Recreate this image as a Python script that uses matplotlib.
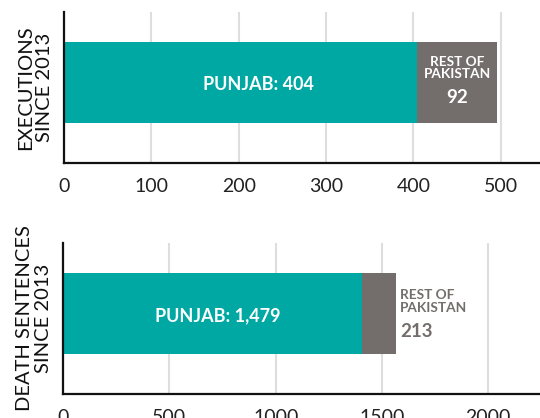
import matplotlib
matplotlib.use("Agg")
import matplotlib.pyplot as plt

plt.rcParams["font.family"] = ["Lato", "DejaVu Sans"]

# values as drawn in the bars
exec_punjab = 404
exec_rest = 92
death_punjab = 1405   # bar length as drawn (label says 1,479)
death_rest = 160      # bar length as drawn (label says 213)

exec_labels = ["PUNJAB: 404", "REST OF\nPAKISTAN", "92"]
death_labels = ["PUNJAB: 1,479", "REST OF\nPAKISTAN", "213"]

exec_ticks = [0, 100, 200, 300, 400, 500]
death_ticks = [0, 500, 1000, 1500, 2000]

TEAL = "#00a8a3"
GREY = "#736d6b"
GRID = "#dedede"

fig = plt.figure(figsize=(5.4, 4.18), dpi=100)
ax1 = fig.add_axes([0.1185, 0.610, 0.8815, 0.361])
ax2 = fig.add_axes([0.1167, 0.0574, 0.8833, 0.361])


def style(ax, ticks, xmax, ylabel):
    ax.set_xlim(0, xmax)
    ax.set_ylim(-0.99, 0.87)
    ax.set_xticks(ticks)
    ax.set_yticks([])
    ax.tick_params(axis="x", length=0, pad=11, labelsize=14, colors="#222222")
    ax.grid(axis="x", color=GRID, linewidth=1.5, zorder=0)
    ax.set_axisbelow(True)
    for s in ["top", "right"]:
        ax.spines[s].set_visible(False)
    for s in ["left", "bottom"]:
        ax.spines[s].set_linewidth(1.6)
        ax.spines[s].set_color("#111111")
    ax.set_ylabel(ylabel, fontsize=14.5, linespacing=1.15, labelpad=8, color="#111111")


# top panel: executions
style(ax1, exec_ticks, 545, "EXECUTIONS\nSINCE 2013")
ax1.barh(0, exec_punjab, height=1.0, color=TEAL, zorder=2)
ax1.barh(0, exec_rest, left=exec_punjab, height=1.0, color=GREY, zorder=2)
ax1.text(exec_punjab * 0.55, -0.02, exec_labels[0], ha="center", va="center",
         color="white", fontsize=13, fontweight="bold", zorder=3)
ax1.text(exec_punjab + exec_rest / 2, 0.18, exec_labels[1], ha="center", va="center",
         color="white", fontsize=9.8, fontweight="bold", linespacing=1.05, zorder=3)
ax1.text(exec_punjab + exec_rest / 2, -0.18, exec_labels[2], ha="center", va="center",
         color="white", fontsize=13.5, fontweight="bold", zorder=3)

# bottom panel: death sentences
style(ax2, death_ticks, 2243, "DEATH SENTENCES\nSINCE 2013")
ax2.barh(0, death_punjab, height=1.0, color=TEAL, zorder=2)
ax2.barh(0, death_rest, left=death_punjab, height=1.0, color=GREY, zorder=2)
ax2.text(death_punjab * 0.517, -0.02, death_labels[0], ha="center", va="center",
         color="white", fontsize=13, fontweight="bold", zorder=3)
ax2.text(death_punjab + death_rest + 20, 0.15, death_labels[1], ha="left", va="center",
         color=GREY, fontsize=9.8, fontweight="bold", linespacing=1.05, zorder=3)
ax2.text(death_punjab + death_rest + 20, -0.225, death_labels[2], ha="left", va="center",
         color=GREY, fontsize=13.5, fontweight="bold", zorder=3)

fig.savefig("out.png", dpi=100)
